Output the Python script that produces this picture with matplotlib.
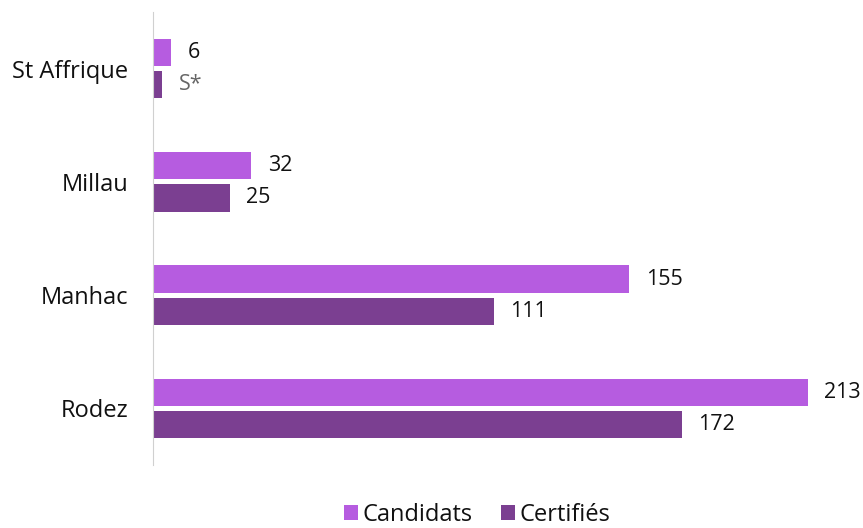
import matplotlib.pyplot as plt
import numpy as np

plt.rcParams['font.family'] = ['Open Sans', 'DejaVu Sans']

sites = ['St Affrique', 'Millau', 'Manhac', 'Rodez']
candidats = [6, 32, 155, 213]
certifies = [3, 25, 111, 172]
certifies_labels = ['S*', '25', '111', '172']

c_cand = '#B65CE0'
c_cert = '#7B3F91'

fig = plt.figure(figsize=(8.63, 5.28), dpi=100)
ax = fig.add_axes([153 / 863, 1 - 465 / 528, 710 / 863, 453 / 528])

y = np.arange(len(sites))
h = 0.24
off = 0.142

b1 = ax.barh(y - off, candidats, height=h, color=c_cand, label='Candidats')
b2 = ax.barh(y + off, certifies, height=h, color=c_cert, label='Certifiés')

for rect, v in zip(b1, candidats):
    ax.text(rect.get_width() + 5.3, rect.get_y() + rect.get_height() / 2, str(v),
            va='center', ha='left', fontsize=15.5, color='#111111')
for rect, lab in zip(b2, certifies_labels):
    col = '#666666' if lab == 'S*' else '#111111'
    ax.text(rect.get_width() + 5.3, rect.get_y() + rect.get_height() / 2, lab,
            va='center', ha='left', fontsize=15.5, color=col)

ax.set_ylim(len(sites) - 0.5, -0.5)
ax.set_xlim(0, 231)
ax.set_yticks(y)
ax.set_yticklabels(sites, fontsize=17, color='#111111')
ax.set_xticks([])
ax.tick_params(axis='y', length=0, pad=18)

for s in ['top', 'right', 'bottom']:
    ax.spines[s].set_visible(False)
ax.spines['left'].set_color('#d0d0d0')

fig.legend(loc='lower center', bbox_to_anchor=(0.553, -0.038), ncol=2, frameon=False,
           fontsize=17, handlelength=0.6, handleheight=0.6, handletextpad=0.2,
           columnspacing=1.2, labelcolor='#111111')

fig.savefig('out.png', dpi=100)
